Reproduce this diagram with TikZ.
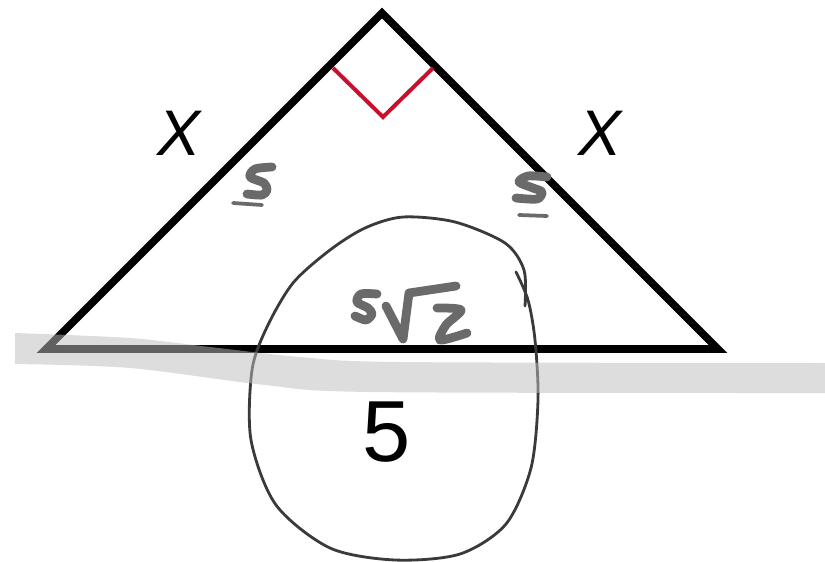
\documentclass[tikz,border=0pt]{standalone}
\usepackage{fontspec}
\setsansfont{Liberation Sans}
\definecolor{angc}{HTML}{C8102E}
\definecolor{inkc}{HTML}{6A6A6A}
\definecolor{penc}{HTML}{3A3A3A}
\tikzset{
  side/.style={line width=6.6pt,line join=miter},
  ink/.style={inkc,line width=7.5pt,line cap=round,line join=round},
  inkthin/.style={inkc,line width=3.2pt,line cap=round,line join=round},
  pen/.style={penc,line width=2.4pt,line cap=round,line join=round},
  band/.style={fill=black!26,opacity=0.51},
}
\begin{document}
\begin{tikzpicture}[x=0.03cm,y=-0.03cm]
  \useasboundingbox (0,0) rectangle (825,561);
  % triangle
  \coordinate (top) at (382,13);
  \coordinate (bl) at (46,349);
  \coordinate (br) at (718,349);
  \draw[side] (top) -- (bl) -- (br) -- cycle;
  \draw[angc,line width=3.4pt] (333,68) -- (383,117) -- (433,68);
  \node[font=\sffamily\itshape\fontsize{55}{55}\selectfont] (xl) at (179,133) {X};
  \node[font=\sffamily\itshape\fontsize{55}{55}\selectfont] (xr) at (600,133) {X};
  % handwriting
  \draw[ink] plot[smooth] coordinates {(272,167) (255,169) (250,177) (264,183) (267,190) (262,195) (247,194)};
  \draw[inkthin] (233,203) -- (262,205);
  \draw[ink] plot[smooth] coordinates {(547,177) (528,176) (519,182) (533,188) (542,192) (537,199) (516,198)};
  \draw[inkthin] (519,215) -- (547,216);
  \draw[ink] plot[smooth] coordinates {(377,294) (361,294) (357,302) (368,308) (372,314) (366,320) (355,316)};
  \draw[ink] (386,306) -- (403,339) -- (409,293) -- (456,286);
  \draw[ink] plot[smooth] coordinates {(437,308) (461,310) (446,325) (440,340) (467,333)};
  % circled answer
  \node[font=\sffamily\fontsize{74}{74}\selectfont] (ans) at (387,432) {5};
  \draw[pen] plot[smooth] coordinates {(516,272) (528,300) (535,340) (538,400) (531,468) (506,524) (460,554) (395,560) (330,548) (276,505) (251,440) (252,370) (267,327) (293,283) (330,250) (365,228) (403,217) (455,222) (505,243) (524,270) (525,306)};
  % highlighter
  \fill[band] plot[smooth] coordinates {(15,333) (130,338) (210,347) (300,357) (400,362) (825,363)}
    -- plot[smooth] coordinates {(825,393) (370,392) (265,385) (130,368) (15,364)} -- cycle;
\end{tikzpicture}
\end{document}
